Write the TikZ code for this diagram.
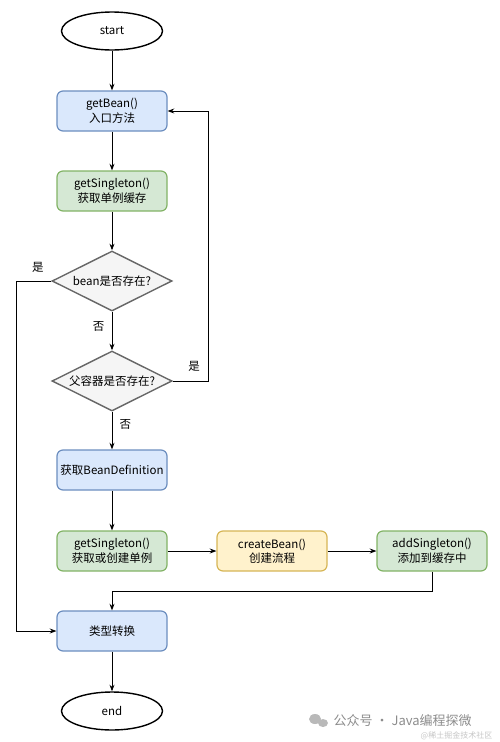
\documentclass[tikz,border=0pt]{standalone}
\usepackage{fontspec}
\setmainfont{Noto Sans CJK SC}
\usepackage{tikz}
\usetikzlibrary{shapes.geometric, arrows}
\usetikzlibrary{arrows.meta, positioning}
\usepackage{xcolor}

\definecolor{blueFill}{HTML}{DAE8FC}
\definecolor{blueLine}{HTML}{6C8EBF}
\definecolor{greenFill}{HTML}{D5E8D4}
\definecolor{greenLine}{HTML}{82B366}
\definecolor{yellowFill}{HTML}{FFF2CC}
\definecolor{yellowLine}{HTML}{D6B656}
\definecolor{greyFill}{HTML}{F5F5F5}
\definecolor{greyLine}{HTML}{666666}

\begin{document}
\begin{tikzpicture}[
        x=1pt, y=-1pt,
        terminal/.style={draw, ellipse, line width=1.4pt, minimum width=101pt, minimum height=38pt, inner sep=0pt, font=\fontsize{11.5}{13}\selectfont},
        block/.style={draw, rectangle, rounded corners=6pt, line width=1.2pt, minimum width=110pt, minimum height=40pt, inner sep=0pt, align=center, font=\fontsize{11.5}{14.5}\selectfont},
        blue/.style={block, fill=blueFill, draw=blueLine},
        green/.style={block, fill=greenFill, draw=greenLine},
        yellow/.style={block, fill=yellowFill, draw=yellowLine},
        decision/.style={draw=greyLine, fill=greyFill, diamond, line width=1.4pt, minimum width=120pt, minimum height=60pt, inner sep=0pt},
        word/.style={font=\fontsize{11.5}{13}\selectfont},
        >=Stealth,
        line width=0.8pt
      ]

      \useasboundingbox (0,0) rectangle (499,742);

      % Main column
      \node [terminal] (start) at (112,31) {start};
      \node [blue] (getbean) at (112,111) {getBean()\\入口方法};
      \node [green] (cache) at (112,191) {getSingleton()\\获取单例缓存};
      \node [decision, label={[word]center:bean是否存在?}] (exists) at (112,281) {};
      \node [decision, label={[word]center:父容器是否存在?}] (parent) at (112,381) {};
      \node [blue] (beandef) at (112,470) {获取BeanDefinition};
      \node [green] (create) at (112,551) {getSingleton()\\获取或创建单例};
      \node [yellow] (createbean) at (272,551) {createBean()\\创建流程};
      \node [green] (add) at (432,551) {addSingleton()\\添加到缓存中};
      \node [blue] (convert) at (112,631) {类型转换};
      \node [terminal] (end) at (112,711) {end};

      % Connectors
      \draw[->] (start) -- (getbean);
      \draw[->] (getbean) -- (cache);
      \draw[->] (cache) -- (exists);
      \draw[->] (exists) -- node[word, left=4pt, pos=0.38] {否} (parent);
      \draw[->] (parent) -- node[word, right=4pt, pos=0.35] {否} (beandef);
      \draw[->] (parent.east) -- ++(36,0) node[word, above left=6pt and 5pt] {是} |- (getbean.east);
      \draw[->] (exists.west) -- ++(-35,0) node[word, above right=5pt and 12pt] {是} |- (convert.west);
      \draw[->] (beandef) -- (create);
      \draw[->] (create) -- (createbean);
      \draw[->] (createbean) -- (add);
      \draw[->] (add.south) -- ++(0,20) -| (convert.north);
      \draw[->] (convert) -- (end);

      % Watermark
      \fill[gray!55] (315,719) ellipse (6pt and 5pt);
      \fill[gray!55] (323,723) ellipse (5pt and 4pt);
      \node [gray!90, anchor=west, font=\fontsize{13}{15}\selectfont] (mark) at (330,721) {公众号 · Java编程探微};
      \node [gray!45, anchor=east, font=\fontsize{8}{9}\selectfont] (site) at (496,736) {@稀土掘金技术社区};

    \end{tikzpicture}
\end{document}
